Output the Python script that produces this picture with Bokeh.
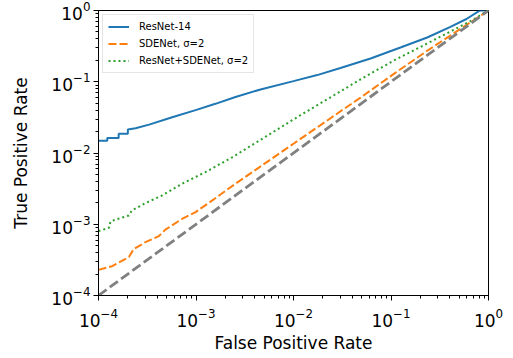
from bokeh.plotting import figure
from bokeh.models import Range1d, Legend, LegendItem
from bokeh.embed import file_html
from bokeh.resources import INLINE

# ResNet-14
resnet_fpr = [1e-4, 1.23e-4, 1.23e-4, 1.61e-4, 1.61e-4, 2.0e-4, 2.0e-4, 2.4e-4, 3.3e-4,
              5.7e-4, 9.9e-4, 1.58e-3, 2.54e-3, 4.59e-3, 1e-2, 0.0175, 0.0303, 0.0617,
              0.125, 0.235, 0.407, 0.594, 0.789, 0.81, 1.0]
resnet_tpr = [0.0148, 0.0148, 0.0163, 0.0163, 0.0186, 0.0186, 0.0214, 0.0223, 0.0250,
              0.0318, 0.040, 0.049, 0.061, 0.078, 0.102, 0.124, 0.156, 0.212,
              0.303, 0.418, 0.59, 0.76, 0.97, 1.0, 1.0]

# SDENet, sigma=2
sde_fpr = [1e-4, 1.38e-4, 2.05e-4, 2.3e-4, 3.03e-4, 4.15e-4, 4.86e-4, 7.2e-4, 9.9e-4,
           1.46e-3, 2.54e-3, 1e-2, 0.0487, 0.107, 0.235, 0.407, 0.653, 1.0]
sde_tpr = [2.29e-4, 2.58e-4, 3.47e-4, 4.5e-4, 5.6e-4, 6.8e-4, 8.4e-4, 1.19e-3, 1.48e-3,
           2.15e-3, 3.7e-3, 0.0135, 0.060, 0.129, 0.272, 0.446, 0.683, 1.0]

# ResNet+SDENet, sigma=2
comb_fpr = [1e-4, 1.28e-4, 1.33e-4, 2.05e-4, 2.2e-4, 3.03e-4, 4.5e-4, 7.2e-4, 1.25e-3,
            2.35e-3, 1.09e-2, 0.0487, 0.107, 0.235, 0.407, 0.653, 1.0]
comb_tpr = [8.0e-4, 8.9e-4, 1.1e-3, 1.33e-3, 1.56e-3, 1.98e-3, 2.54e-3, 3.7e-3, 5.4e-3,
            8.7e-3, 0.0318, 0.108, 0.199, 0.344, 0.507, 0.71, 1.0]

# chance diagonal
chance = [1e-4, 1.0]

labels = ["ResNet-14", "SDENet, \u03c3=2", "ResNet+SDENet, \u03c3=2"]

FONT = "DejaVu Sans"

p = figure(width=505, height=356, x_axis_type="log", y_axis_type="log",
           x_range=Range1d(1e-4, 1.0), y_range=Range1d(1e-4, 1.0),
           output_backend="svg", toolbar_location=None,
           min_border_left=98, min_border_right=17, min_border_top=10, min_border_bottom=61)

p.grid.visible = False
p.outline_line_color = "black"
p.outline_line_width = 1
p.outline_line_alpha = 1.0
p.background_fill_color = "white"
p.border_fill_color = "white"

for ax in (p.xaxis[0], p.yaxis[0]):
    ax.axis_line_color = "black"
    ax.major_tick_line_color = "black"
    ax.minor_tick_line_color = "black"
    ax.major_tick_in = 0
    ax.major_tick_out = 5
    ax.minor_tick_in = 0
    ax.minor_tick_out = 3
    ax.major_label_text_font = FONT
    ax.major_label_text_font_size = "17px"
    ax.major_label_text_color = "black"
    ax.axis_label_text_font = FONT
    ax.axis_label_text_font_size = "17px"
    ax.axis_label_text_font_style = "normal"
    ax.axis_label_text_color = "black"

p.xaxis.axis_label = "False Positive Rate"
p.yaxis.axis_label = "True Positive Rate"
p.xaxis.major_label_standoff = 7
p.yaxis.major_label_standoff = 3
p.xaxis.axis_label_standoff = 3
p.yaxis.axis_label_standoff = 17

r1 = p.line(resnet_fpr, resnet_tpr, line_color="#1f77b4", line_width=2)
r2 = p.line(sde_fpr, sde_tpr, line_color="#ff7f0e", line_width=2, line_dash="8 3")
r3 = p.line(comb_fpr, comb_tpr, line_color="#2ca02c", line_width=2, line_dash="2 3")
p.line(chance, chance, line_color="#808080", line_width=2.8, line_dash="10 4")

legend = Legend(items=[LegendItem(label=labels[0], renderers=[r1]),
                       LegendItem(label=labels[1], renderers=[r2]),
                       LegendItem(label=labels[2], renderers=[r3])],
                location="top_left", margin=4, padding=5, spacing=4,
                glyph_width=21, glyph_height=13, label_height=13, label_standoff=10,
                label_text_font=FONT, label_text_font_size="10px",
                label_text_color="black",
                border_line_color="#cccccc", border_line_width=1,
                background_fill_color="white", background_fill_alpha=0.8)
p.add_layout(legend)

open("out.html", "w").write(file_html(p, INLINE))
